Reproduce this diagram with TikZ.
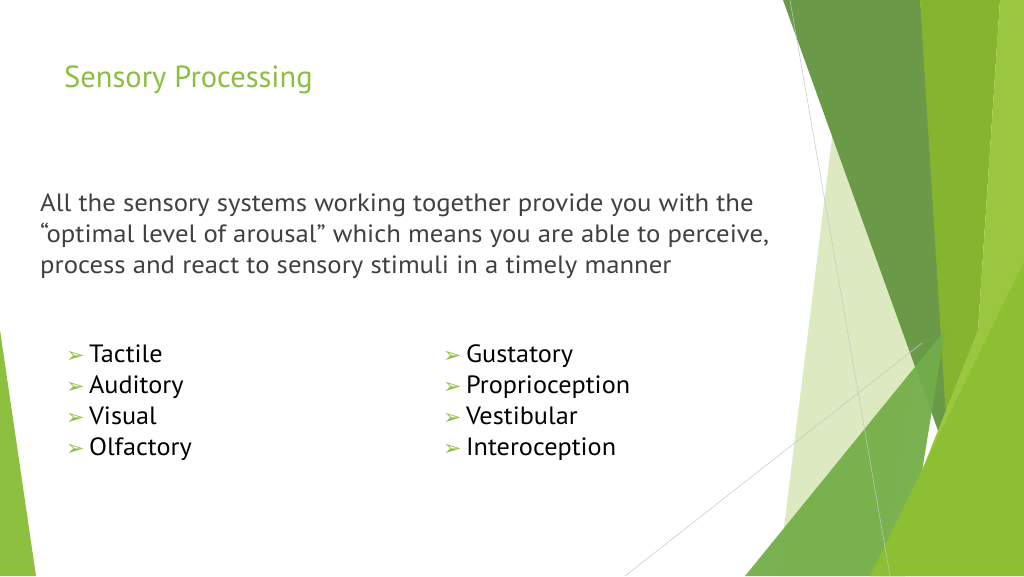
\documentclass[tikz,border=0pt]{standalone}
\usepackage{fontspec}
\setmainfont{PT Sans}
\newfontfamily\symfont{DejaVu Sans}
\usetikzlibrary{positioning}
\definecolor{facetgreen}{HTML}{8CBF3F}
\definecolor{bodygray}{HTML}{404040}
\definecolor{palegreen}{HTML}{DDE9C0}
\definecolor{darkfacet}{RGB}{106,154,72}
\definecolor{midfacet}{RGB}{134,180,47}
\definecolor{lightfacet}{RGB}{155,199,64}
\definecolor{lowfacet}{RGB}{115,174,72}
\definecolor{brightfacet}{RGB}{140,192,50}
\definecolor{leftfacet}{RGB}{141,192,63}
\tikzset{
  facet/.style={draw=none,fill=#1},
  thinrule/.style={draw=gray!45,line width=0.5pt},
  bodytext/.style={anchor=west,inner sep=0pt,align=left,text=bodygray,
    transform shape,xscale=1.07,font=\fontsize{25}{31}\selectfont},
  itemtext/.style={anchor=west,inner sep=0pt,align=left,text=black,
    transform shape,xscale=1.05,font=\fontsize{25}{31}\selectfont}
}
\newcommand{\bul}{{\color{facetgreen}\symfont\fontsize{21}{31}\selectfont ➢}\,}
\begin{document}
\begin{tikzpicture}[x=1pt,y=-1pt]
\useasboundingbox (0,0) rectangle (1024,576);

% --- Facet shapes ---
\fill[facet=white] (0,0) rectangle (1024,576);
\fill[facet=palegreen] (833,130) -- (920,345) -- (880,576) -- (778,576) -- cycle;
\fill[facet=darkfacet] (783,0) -- (920,0) -- (960,400) -- (945,450) -- cycle;
\fill[facet=midfacet] (920,0) -- (1000,0) -- (978,330) -- (948,450) -- cycle;
\fill[facet=lightfacet] (1000,0) -- (1024,0) -- (1024,576) -- (880,576) -- (978,330) -- cycle;
\fill[facet=lowfacet, opacity=0.95] (745,576) -- (945,330) -- (905,576) -- cycle;
\fill[facet=brightfacet] (870,576) -- (1024,262) -- (1024,576) -- cycle;
\fill[facet=leftfacet] (0,330) -- (36,576) -- (0,576) -- cycle;
\coordinate (ra) at (790,0);
\coordinate (rb) at (890,576);
\coordinate (rc) at (625,576);
\coordinate (rd) at (922,343);
\draw[thinrule] (ra) -- (rb);
\draw[thinrule] (rc) -- (rd);

% --- Text ---
\node[anchor=west,inner sep=0pt,text=facetgreen,font=\fontsize{30.5}{34}\selectfont] (title) at (64,80) {Sensory Processing};
\node[bodytext] (intro) at (40,236) {All the sensory systems working together provide you with the\\
``optimal level of arousal'' which means you are able to perceive,\\
process and react to sensory stimuli in a timely manner};

\node[itemtext] (left) at (66,403) {\bul Tactile\\ \bul Auditory\\ \bul Visual\\ \bul Olfactory};
\node[itemtext] (right) at (443,403) {\bul Gustatory\\ \bul Proprioception\\ \bul Vestibular\\ \bul Interoception};
\end{tikzpicture}
\end{document}
